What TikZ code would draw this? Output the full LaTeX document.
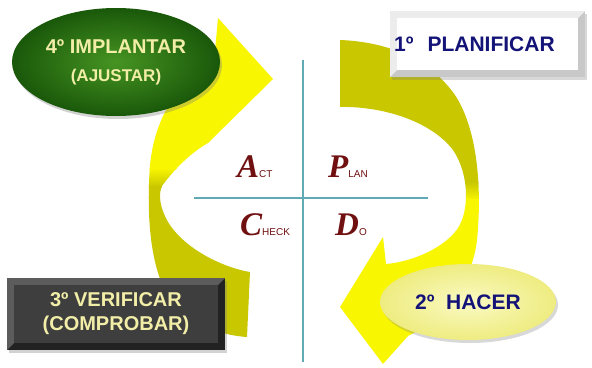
\documentclass[tikz,border=0pt]{standalone}
\usepackage{fontspec}
\setmainfont{Liberation Sans}
\newfontfamily\pdcafont{Liberation Serif}
\usetikzlibrary{shapes.geometric}
\usetikzlibrary{shadows}
\usetikzlibrary{positioning}

\definecolor{arrowyellow}{RGB}{248,246,0}
\definecolor{arrowolive}{RGB}{201,199,0}
\definecolor{crossteal}{RGB}{96,170,182}
\definecolor{pdcared}{RGB}{112,16,16}
\definecolor{labelnavy}{RGB}{20,20,120}
\definecolor{labelcream}{RGB}{242,238,168}
\definecolor{implgreenlight}{RGB}{70,148,34}
\definecolor{implgreendark}{RGB}{26,88,10}
\definecolor{hacerlight}{RGB}{250,250,196}
\definecolor{hacerfill}{RGB}{238,236,128}
\definecolor{planedge}{RGB}{200,200,200}
\definecolor{planlight}{RGB}{236,236,236}
\definecolor{verifedge}{RGB}{34,34,34}
\definecolor{veriflight}{RGB}{92,92,92}
\definecolor{verifface}{RGB}{62,62,62}

% bevel of the two boxes: light top/left, face inside
\newcommand{\bevelfaces}[2]{%
  \fill[#1] (path picture bounding box.north west) -- (path picture bounding box.north east)
    -- ([shift={(-7pt,-7pt)}]path picture bounding box.north east)
    -- ([shift={(7pt,7pt)}]path picture bounding box.south west)
    -- (path picture bounding box.south west) -- cycle;
  \fill[#2] ([shift={(7pt,-7pt)}]path picture bounding box.north west)
    rectangle ([shift={(-7pt,7pt)}]path picture bounding box.south east);}

\newcommand{\pdcabig}[1]{{\pdcafont\bfseries\itshape\fontsize{33}{33}\selectfont #1}}
\newcommand{\pdcasmall}[1]{{\fontsize{10}{10}\selectfont #1}}

% the two curved arrows (pixel units, y down)
\newcommand{\leftarrowpath}{(247,337) -- (250,272)
  .. controls (225,268) and (185,250) .. (168,222)
  .. controls (160,208) and (158,195) .. (162,186)
  .. controls (175,168) and (192,152) .. (208,143)
  -- (273,79) -- (218,18) -- (214,62)
  .. controls (180,80) and (155,115) .. (150,165)
  .. controls (146,220) and (150,290) .. (185,315)
  .. controls (205,330) and (230,336) .. (247,337) -- cycle}
\newcommand{\rightarrowpath}{(340,40) -- (340,107)
  .. controls (380,106) and (430,120) .. (453,150)
  .. controls (470,175) and (470,215) .. (455,232)
  .. controls (440,250) and (410,262) .. (386,264)
  -- (383,237) -- (340,307) -- (383,364) -- (408,336)
  .. controls (440,320) and (472,285) .. (477,240)
  .. controls (482,190) and (478,130) .. (455,95)
  .. controls (430,60) and (390,42) .. (340,40) -- cycle}

\begin{document}
\begin{tikzpicture}[x=1pt,y=-1pt,
    implant node/.style={ellipse,minimum width=208pt,minimum height=108pt,inner color=implgreenlight,outer color=implgreendark,text=labelcream,font=\bfseries,align=center,drop shadow={opacity=0.35,shadow xshift=2pt,shadow yshift=-3pt}},
    hacer node/.style={ellipse,minimum width=176pt,minimum height=76pt,inner color=hacerlight,outer color=hacerfill,text=labelnavy,font=\bfseries\fontsize{21}{25}\selectfont,drop shadow={opacity=0.3,shadow xshift=2pt,shadow yshift=-3pt}},
    plan node/.style={rectangle,anchor=west,minimum height=66pt,text width=187pt,inner xsep=4pt,align=left,fill=planedge,path picture={\bevelfaces{planlight}{white}},text=labelnavy,font=\bfseries\fontsize{21}{25}\selectfont,drop shadow={opacity=0.3,shadow xshift=2pt,shadow yshift=-3pt}},
    verif node/.style={rectangle,minimum width=218pt,minimum height=72pt,fill=verifedge,path picture={\bevelfaces{veriflight}{verifface}},text=labelcream,font=\bfseries\fontsize{20}{24}\selectfont,align=center,drop shadow={opacity=0.35,shadow xshift=2pt,shadow yshift=-3pt}},
    pdca node/.style={anchor=base west,inner sep=0pt,text=pdcared},
    cross line/.style={crossteal,line width=2.5pt}]
  \useasboundingbox (0,0) rectangle (592,367);
  \fill[white] (0,0) rectangle (592,367);

  % left arrow: olive tail, yellow head
  \begin{scope}
    \clip \leftarrowpath;
    \fill[arrowyellow] (140,10) rectangle (280,170);
    \shade[top color=arrowyellow,bottom color=arrowolive] (140,168) rectangle (280,187);
    \fill[arrowolive] (140,186) rectangle (280,345);
  \end{scope}
  % right arrow
  \begin{scope}
    \clip \rightarrowpath;
    \fill[arrowolive] (330,30) rectangle (490,184);
    \shade[top color=arrowolive,bottom color=arrowyellow] (330,182) rectangle (490,200);
    \fill[arrowyellow] (330,199) rectangle (490,370);
  \end{scope}

  % cross
  \coordinate (vtop) at (303,60);
  \coordinate (vbot) at (303,362);
  \coordinate (hleft) at (194,198);
  \coordinate (hright) at (428,198);
  \draw[cross line] (vtop) -- (vbot);
  \draw[cross line] (hleft) -- (hright);

  \node[pdca node] (act) at (237,177) {\pdcabig{A}\pdcasmall{CT}};
  \node[pdca node] (planword) at (328,177) {\pdcabig{P}\pdcasmall{LAN}};
  \node[pdca node] (check) at (240,235) {\pdcabig{C}\pdcasmall{HECK}};
  \node[pdca node] (do) at (335,235) {\pdcabig{D}\pdcasmall{O}};

  \node[implant node] (implant) at (116,62) {{\fontsize{20}{24}\selectfont 4º IMPLANTAR}\\[15pt]{\fontsize{17}{20}\selectfont (AJUSTAR)}};
  \node[plan node] (plan) at (390,44) {1º~~PLANIFICAR};
  \node[hacer node] (hacer) at (468,302) {2º~~HACER};
  \node[verif node] (verif) at (116,314) {3º VERIFICAR\\(COMPROBAR)};
\end{tikzpicture}
\end{document}
